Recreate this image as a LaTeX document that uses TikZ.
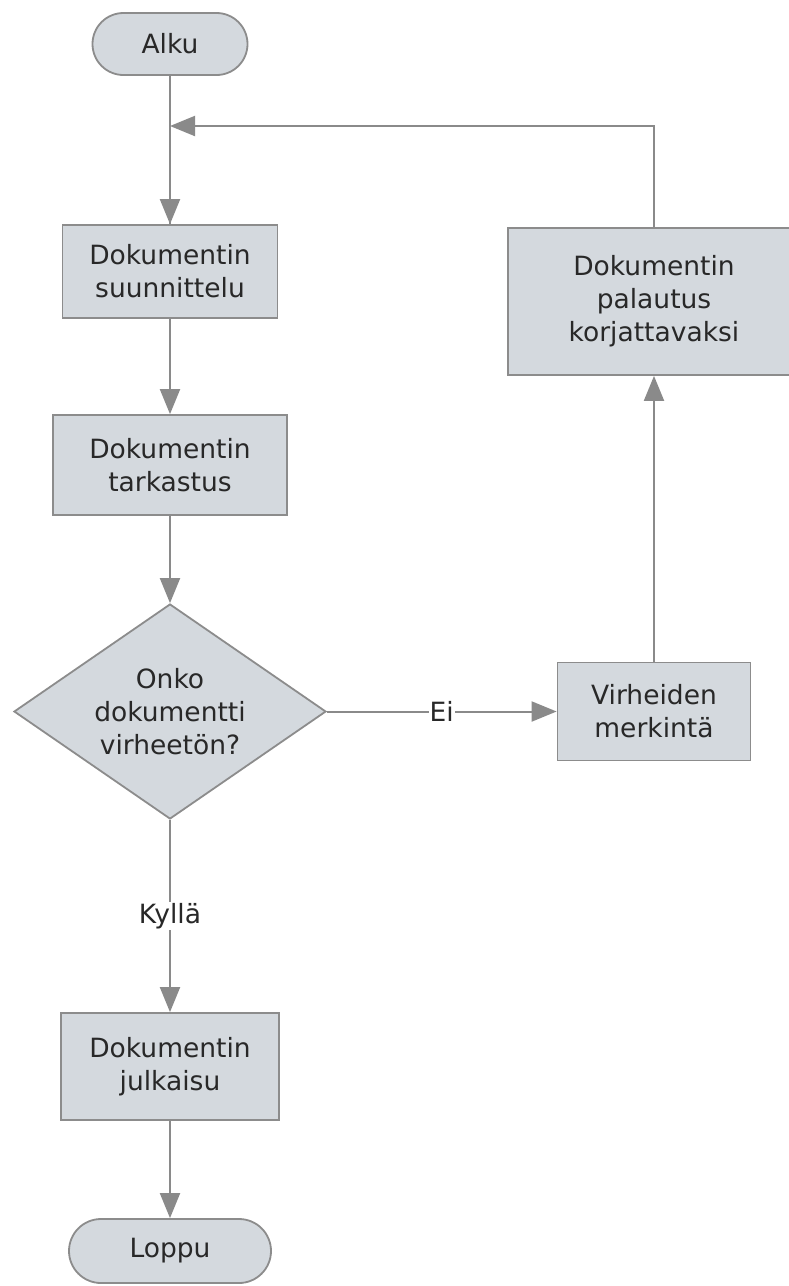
\documentclass[tikz,border=0pt]{standalone}
\usepackage{fontspec}
\setmainfont{DejaVu Sans}
\usetikzlibrary{shapes.geometric,arrows.meta}

\definecolor{boxfill}{RGB}{212,217,222}
\definecolor{boxline}{RGB}{140,140,140}
\definecolor{linkgray}{RGB}{138,138,138}
\definecolor{txt}{RGB}{40,40,40}

\tikzset{
  base/.style={draw=boxline, line width=1.8pt, fill=boxfill, text=txt,
    font=\fontsize{26.5}{33}\selectfont, align=center, inner sep=0pt},
  terminal/.style={base, rectangle, rounded corners=31pt},
  process/.style={base, rectangle},
  decision/.style={base, diamond, shape aspect=1.45},
  link/.style={draw=linkgray, line width=2pt,
    -{Triangle[length=25pt,width=20pt,fill=linkgray]}},
  plainlink/.style={draw=linkgray, line width=2pt},
  lbl/.style={fill=white, text=txt, font=\fontsize{26.5}{33}\selectfont,
    inner sep=1pt}
}

\begin{document}
\begin{tikzpicture}[x=1pt,y=-1pt]
  \useasboundingbox (0,0) rectangle (788,1286);
  \fill[white] (0,0) rectangle (788,1286);

  % main column
  \node[terminal, minimum width=155pt, minimum height=62pt] (alku) at (170,44) {Alku};
  \node[process, minimum width=215pt, minimum height=93pt] (suunn) at (170,271.5) {Dokumentin\\suunnittelu};
  \node[process, minimum width=234pt, minimum height=100pt] (tark) at (170,465) {Dokumentin\\tarkastus};
  \node[decision, minimum width=312pt, minimum height=215pt] (onko) at (170,711.5) {Onko\\dokumentti\\virheetön?};
  \node[process, minimum width=218pt, minimum height=107pt] (julk) at (170,1066.5) {Dokumentin\\julkaisu};
  \node[terminal, minimum width=202pt, minimum height=64pt, rounded corners=32pt] (loppu) at (170,1251) {Loppu};

  % correction branch
  \node[process, minimum width=193pt, minimum height=98pt] (virh) at (654,711.5) {Virheiden\\merkintä};
  \node[process, minimum width=292pt, minimum height=147pt] (pal) at (654,301.5) {Dokumentin\\palautus\\korjattavaksi};

  % return point on the main line
  \coordinate (paluu) at (170,126);

  % connectors
  \draw[plainlink] (alku.south) -- (suunn.north);
  \draw[link] (suunn.south) -- (tark.north);
  \draw[link] (tark.south) -- (onko.north);
  \draw[link] (onko.east) -- node[lbl] (ei) {Ei} (virh.west);
  \draw[link] (onko.south) -- node[lbl] (kylla) {Kyllä} (julk.north);
  \draw[link] (julk.south) -- (loppu.north);
  \draw[link] (virh.north) -- (pal.south);
  \draw[link] (pal.north) |- (paluu);
  \draw[link] (paluu) -- (suunn.north);
\end{tikzpicture}
\end{document}
